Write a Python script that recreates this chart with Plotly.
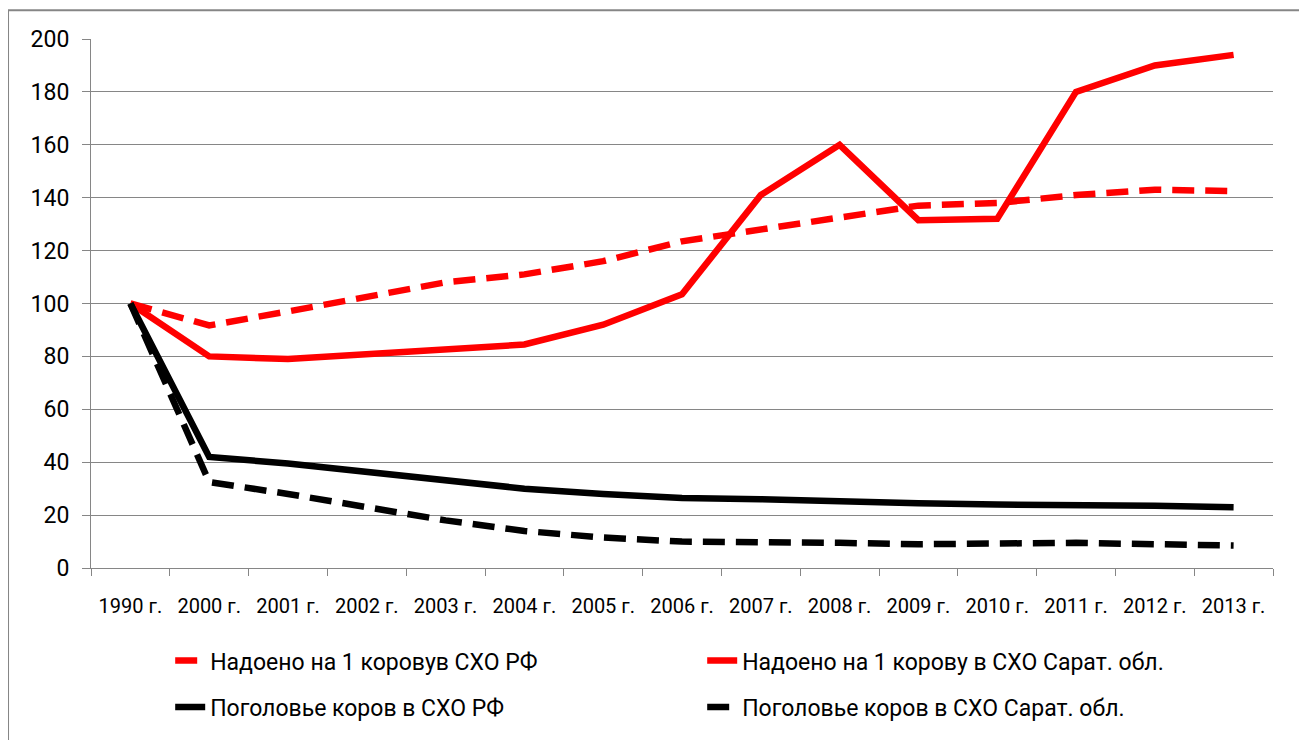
import plotly.graph_objects as go

categories = ["1990 г.", "2000 г.", "2001 г.", "2002 г.", "2003 г.", "2004 г.", "2005 г.",
              "2006 г.", "2007 г.", "2008 г.", "2009 г.", "2010 г.", "2011 г.", "2012 г.", "2013 г."]

milk_rf = [100, 91.7, 97, 102.5, 108, 111, 116, 123.5, 128, 132, 137, 138, 141, 143, 142.5]
milk_sar = [100, 80, 79, 81, 83, 84.5, 92, 103.5, 141, 160, 131.5, 132, 180, 190, 194]
cows_rf = [100, 42, 39.5, 36.5, 33, 30, 28, 26.5, 26, 25, 24.5, 24, 24, 23.5, 23]
cows_sar = [100, 32.5, 28, 23, 18, 14, 11.5, 10, 10, 9.5, 9, 9.5, 9.5, 9, 8.5]

names = ["Надоено на 1 коровув СХО РФ", "Надоено на 1 корову в СХО Сарат. обл.",
         "Поголовье коров в СХО РФ", "Поголовье коров в СХО Сарат. обл."]

FONT = "Roboto, Noto Sans, sans-serif"

fig = go.Figure()
fig.add_trace(go.Scatter(x=categories, y=milk_rf, name=names[0], mode="lines", legend="legend",
                         line=dict(color="#ff0000", width=6.5, dash="22px,11px")))
fig.add_trace(go.Scatter(x=categories, y=milk_sar, name=names[1], mode="lines", legend="legend",
                         line=dict(color="#ff0000", width=6.5)))
fig.add_trace(go.Scatter(x=categories, y=cows_rf, name=names[2], mode="lines", legend="legend2",
                         line=dict(color="#000000", width=6.5)))
fig.add_trace(go.Scatter(x=categories, y=cows_sar, name=names[3], mode="lines", legend="legend2",
                         line=dict(color="#000000", width=6.5, dash="22px,11px")))

leg_common = dict(orientation="h", xanchor="left", yanchor="middle",
                  entrywidth=487, entrywidthmode="pixels",
                  font=dict(family=FONT, size=23, color="#000000"), bgcolor="rgba(0,0,0,0)")

fig.update_layout(
    width=1299, height=732,
    margin=dict(l=83, r=34, t=31, b=169),
    paper_bgcolor="white", plot_bgcolor="white",
    font=dict(family=FONT, size=19, color="#000000"),
    showlegend=True,
    legend=dict(x=0.067, y=-0.175, **leg_common),
    legend2=dict(x=0.067, y=-0.263, **leg_common),
    xaxis=dict(type="category", showgrid=False, showline=True, linecolor="#868686", linewidth=1,
               ticks="outside", tickson="boundaries", ticklen=7, tickcolor="#868686",
               ticklabelstandoff=20,
               tickfont=dict(family=FONT, size=20, color="#000000"), range=[-0.5, 14.5]),
    yaxis=dict(range=[0, 200], dtick=20, showgrid=True, gridcolor="#868686", gridwidth=1,
               showline=True, linecolor="#868686", linewidth=1, ticks="outside", ticklen=8,
               ticklabelstandoff=8,
               tickcolor="#868686", tickfont=dict(family=FONT, size=23, color="#000000"),
               zeroline=False),
    shapes=[dict(type="rect", xref="paper", yref="paper", x0=-0.0702, x1=1.0262, y0=-0.36, y1=1.0545,
                 line=dict(color="#868686", width=2), fillcolor="rgba(0,0,0,0)", layer="below")],
)

fig.write_html("out.html")
